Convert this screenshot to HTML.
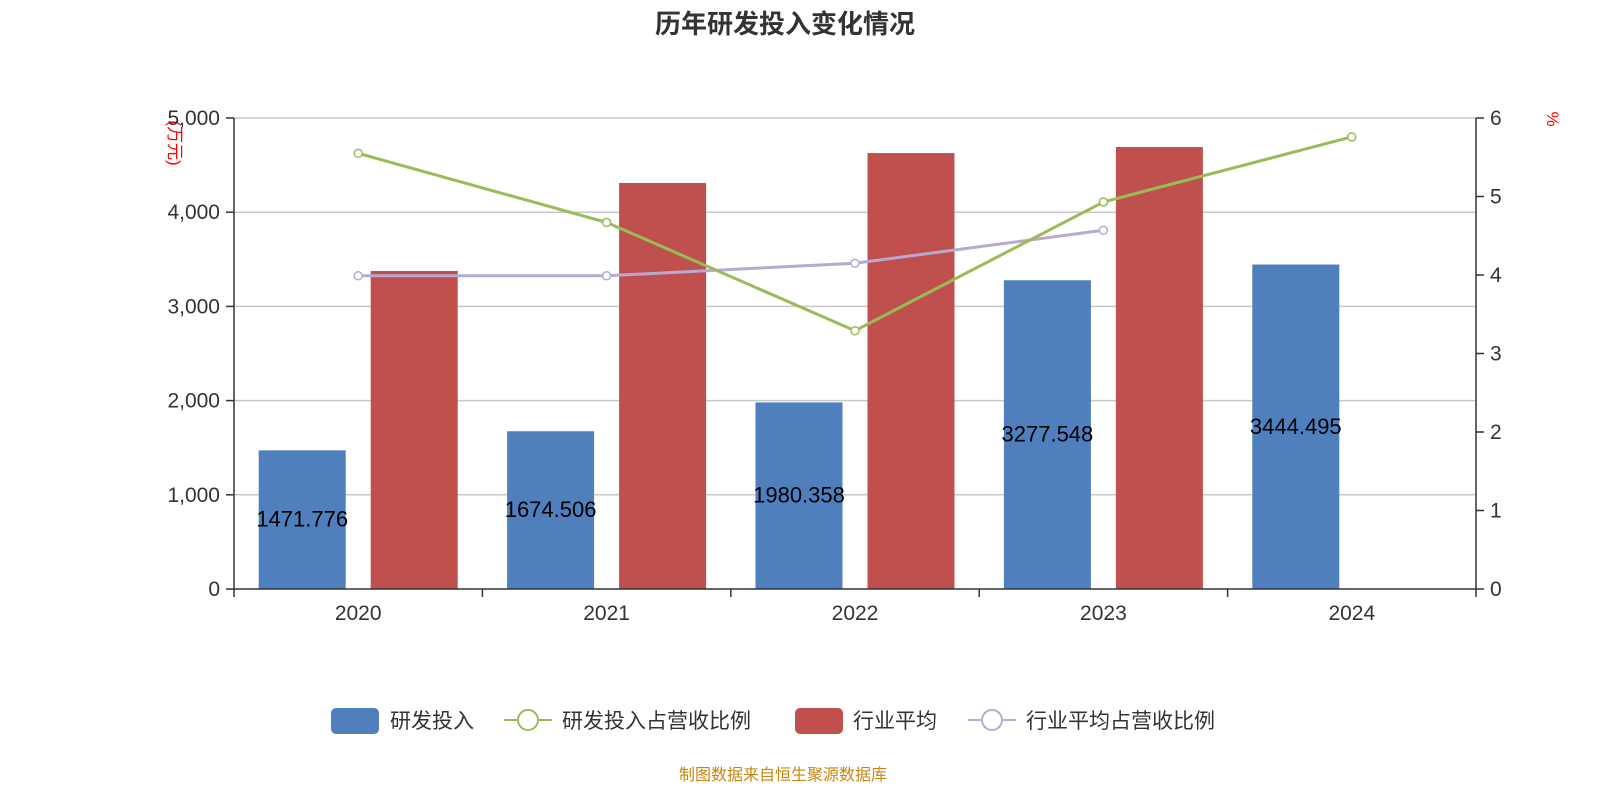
<!DOCTYPE html>
<html><head><meta charset="utf-8"><style>
body{margin:0;background:#fff;}
svg{display:block;font-family:"Liberation Sans","Noto Sans CJK SC",sans-serif;}
</style></head><body>
<svg id="chart" width="1600" height="800" xmlns="http://www.w3.org/2000/svg">
<text x="785" y="33" text-anchor="middle" font-size="26" font-weight="bold" fill="#333">历年研发投入变化情况</text>
<text transform="translate(169,143) rotate(90)" text-anchor="middle" font-size="17" fill="#f00">(万元)</text>
<text transform="translate(1547,119) rotate(90)" text-anchor="middle" font-size="17" fill="#f00">%</text>
<g id="grid"></g><g id="bars"></g><g id="lines"></g><g id="axes"></g>
<g>
<g><rect x="331" y="708" width="48" height="26" rx="5" fill="#4f7fbd"/><text x="390" y="728" font-size="21" fill="#333">研发投入</text></g>
<g><line x1="504" y1="720" x2="552" y2="720" stroke="#9bbb59" stroke-width="2"/><circle cx="528" cy="720" r="10" fill="#fff" stroke="#9bbb59" stroke-width="2"/><text x="562" y="728" font-size="21" fill="#333">研发投入占营收比例</text></g>
<g><rect x="795" y="708" width="48" height="26" rx="5" fill="#c0504d"/><text x="853" y="728" font-size="21" fill="#333">行业平均</text></g>
<g><line x1="968" y1="720" x2="1016" y2="720" stroke="#b7a9d0" stroke-width="2"/><circle cx="992" cy="720" r="10" fill="#fff" stroke="#b7a9d0" stroke-width="2"/><text x="1026" y="728" font-size="21" fill="#333">行业平均占营收比例</text></g>
</g>
<text x="783" y="780" text-anchor="middle" font-size="16" fill="#c8860d">制图数据来自恒生聚源数据库</text>
</svg>
<script>
const categories=["2020","2021","2022","2023","2024"];
const rdValues=[1471.776,1674.506,1980.358,3277.548,3444.495];
const industryAvg=[3376,4310,4628,4692,null];
const rdRatio=[5.55,4.67,3.29,4.93,5.76];
const industryRatio=[3.99,3.99,4.15,4.57,null];
const leftTicks=[0,1000,2000,3000,4000,5000];
const rightTicks=[0,1,2,3,4,5,6];

const NS="http://www.w3.org/2000/svg";
const X0=234,X1=1476,Y0=589,Y1=118;
const band=(X1-X0)/categories.length;
const cx=i=>X0+band*(i+0.5);
const yL=v=>Y0-(v/5000)*(Y0-Y1);
const yR=v=>Y0-(v/6)*(Y0-Y1);
function mk(tag,attrs,parent,txt){const e=document.createElementNS(NS,tag);for(const k in attrs)e.setAttribute(k,attrs[k]);if(txt!=null)e.textContent=txt;document.getElementById(parent).appendChild(e);return e;}
const fmt=v=>v.toLocaleString('en-US');
leftTicks.forEach(t=>{
  const y=yL(t);
  if(t>0){const g=mk('line',{x1:X0,x2:X1,y1:y,y2:y,stroke:'#c8c8c8','stroke-width':1.5},'grid');
  
  }
  mk('line',{x1:X0-8,x2:X0,y1:y,y2:y,stroke:'#333','stroke-width':1.5},'axes');
  const l=mk('text',{x:X0-14,y:y+7,'text-anchor':'end','font-size':21,fill:'#333'},'axes',fmt(t));
  
  
});
rightTicks.forEach(t=>{
  const y=yR(t);
  mk('line',{x1:X1,x2:X1+8,y1:y,y2:y,stroke:'#333','stroke-width':1.5},'axes');
  const l=mk('text',{x:X1+14,y:y+7,'font-size':21,fill:'#333'},'axes',t);
  
  
});
mk('line',{x1:X0,x2:X0,y1:Y1,y2:Y0,stroke:'#333','stroke-width':1.5},'axes');
mk('line',{x1:X1,x2:X1,y1:Y1,y2:Y0,stroke:'#333','stroke-width':1.5},'axes');
mk('line',{x1:X0,x2:X1,y1:Y0,y2:Y0,stroke:'#333','stroke-width':1.5},'axes');
for(let i=0;i<=categories.length;i++){mk('line',{x1:X0+band*i,x2:X0+band*i,y1:Y0,y2:Y0+8,stroke:'#333','stroke-width':1.5},'axes');}
categories.forEach((c,i)=>{
  const l=mk('text',{x:cx(i),y:Y0+31,'text-anchor':'middle','font-size':21,fill:'#333'},'axes',c);
  
  
});
const BW=87;
rdValues.forEach((v,i)=>{
  const b=mk('rect',{x:cx(i)-56-BW/2,y:yL(v),width:BW,height:Y0-yL(v),fill:'#4f7fbd'},'bars');
  
  
});
industryAvg.forEach((v,i)=>{
  if(v==null)return;
  const b=mk('rect',{x:cx(i)+56-BW/2,y:yL(v),width:BW,height:Y0-yL(v),fill:'#c0504d'},'bars');
  
  
});
rdValues.forEach((v,i)=>{
  const l=mk('text',{x:cx(i)-56,y:(yL(v)+Y0)/2+7,'text-anchor':'middle','font-size':22,fill:'#000'},'bars',String(v));
  
  
});
function drawLine(arr,color,name){
  const pts=[];arr.forEach((v,i)=>{if(v!=null)pts.push([cx(i),yR(v)]);});
  const p=mk('polyline',{points:pts.map(p=>p.join(',')).join(' '),fill:'none',stroke:color,'stroke-width':3},'lines');
  
  
  pts.forEach(q=>{
    const c=mk('circle',{cx:q[0],cy:q[1],r:4,fill:'#fff',stroke:color,'stroke-width':1.5},'lines');
    
    
  });
}
drawLine(industryRatio,'#b7a9d0','industry-ratio');
drawLine(rdRatio,'#9bbb59','rd-ratio');
</script>
</body></html>
